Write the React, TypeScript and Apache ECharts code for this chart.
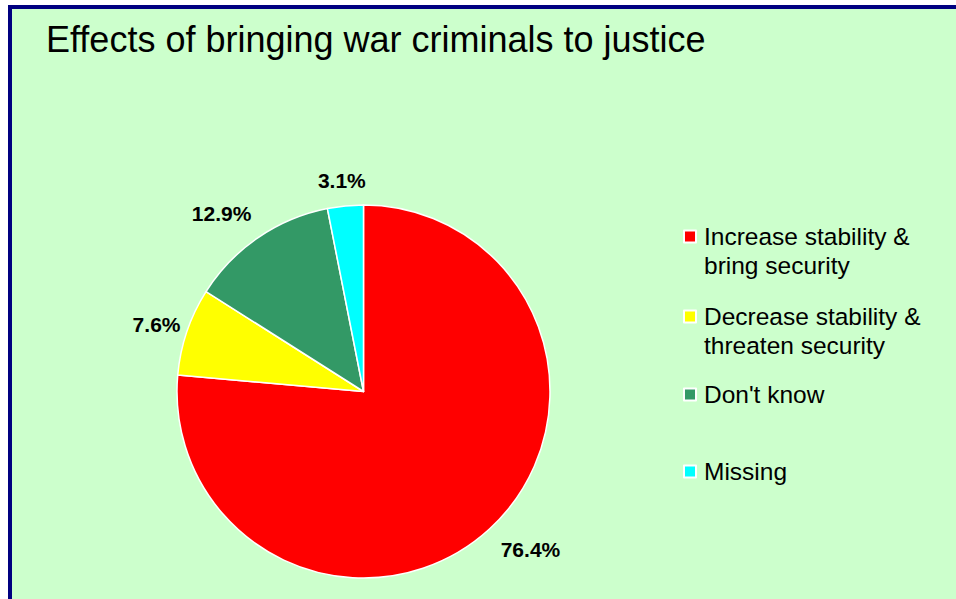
import React, { useEffect, useRef } from "react";
import * as echarts from "echarts";

const titleText = "Effects of bringing war criminals to justice";
const categories = [
  "Increase stability &\nbring security",
  "Decrease stability &\nthreaten security",
  "Don't know",
  "Missing",
];
const values = [76.4, 7.6, 12.9, 3.1];
const colors = ["#FF0000", "#FFFF00", "#339966", "#00FFFF"];
const legendTops = [188, 268, 375, 452];
const labelLineLengths = [40, 32, 40, 26];
const labelShifts = [
  [14, -9],
  [0, 3],
  [-14, 9],
  [-1, 0],
];

const FONT = "'Liberation Sans', Arial, sans-serif";

export default function App() {
  const ref = useRef<HTMLDivElement>(null);
  useEffect(() => {
    if (!ref.current) return;
    const chart = echarts.init(ref.current, undefined, { renderer: "svg" });
    const legends = categories.map((name, i) => ({
      show: true,
      orient: "vertical",
      left: 675,
      top: legendTops[i],
      padding: 0,
      itemWidth: 12,
      itemHeight: 12,
      icon: "rect",
      data: [name],
      selectedMode: false,
      formatter: (n: string) => (n.includes("\n") ? "\n" + n : n),
      textStyle: {
        fontFamily: FONT,
        fontSize: 24.5,
        lineHeight: 29,
        color: "#000",
        padding: [0, 0, 0, 3],
      },
    }));
    chart.setOption({
      animation: false,
      backgroundColor: "#CCFFCC",
      title: {
        text: titleText,
        left: 38,
        top: 16,
        padding: 0,
        textStyle: {
          fontFamily: FONT,
          fontSize: 36,
          fontWeight: "normal",
          color: "#000",
        },
      },
      legend: legends,
      graphic: [
        {
          type: "line",
          shape: { x1: 2, y1: 0, x2: 2, y2: 594 },
          style: { stroke: "#000080", lineWidth: 4 },
          silent: true,
        },
        {
          type: "line",
          shape: { x1: 0, y1: 2, x2: 948, y2: 2 },
          style: { stroke: "#000080", lineWidth: 4 },
          silent: true,
        },
      ],
      series: [
        {
          type: "pie",
          center: [355.5, 386.5],
          radius: 186.5,
          startAngle: 90,
          clockwise: true,
          avoidLabelOverlap: false,
          itemStyle: { borderColor: "#FFFFFF", borderWidth: 1.5 },
          label: {
            show: true,
            position: "outside",
            formatter: (p: any) => p.value.toFixed(1) + "%",
            fontFamily: FONT,
            fontSize: 21,
            fontWeight: "bold",
            color: "#000",
            distanceToLabelLine: 0,
          },
          labelLine: { show: false, length: 34, length2: 0 },
          labelLayout: (p: any) => {
            const s = labelShifts[p.dataIndex] || [0, 0];
            const half =
              p.align === "left"
                ? -p.labelRect.width / 2
                : p.align === "right"
                ? p.labelRect.width / 2
                : 0;
            return { dx: half + s[0], dy: s[1] };
          },
          emphasis: { disabled: true },
          data: categories.map((name, i) => ({
            name,
            value: values[i],
            itemStyle: { color: colors[i] },
            labelLine: { show: false, length: labelLineLengths[i], length2: 0 },
          })),
        },
      ],
    });
    return () => chart.dispose();
  }, []);
  return (
    <div
      ref={ref}
      style={{ position: "absolute", left: 8, top: 5, width: 948, height: 594 }}
    />
  );
}
